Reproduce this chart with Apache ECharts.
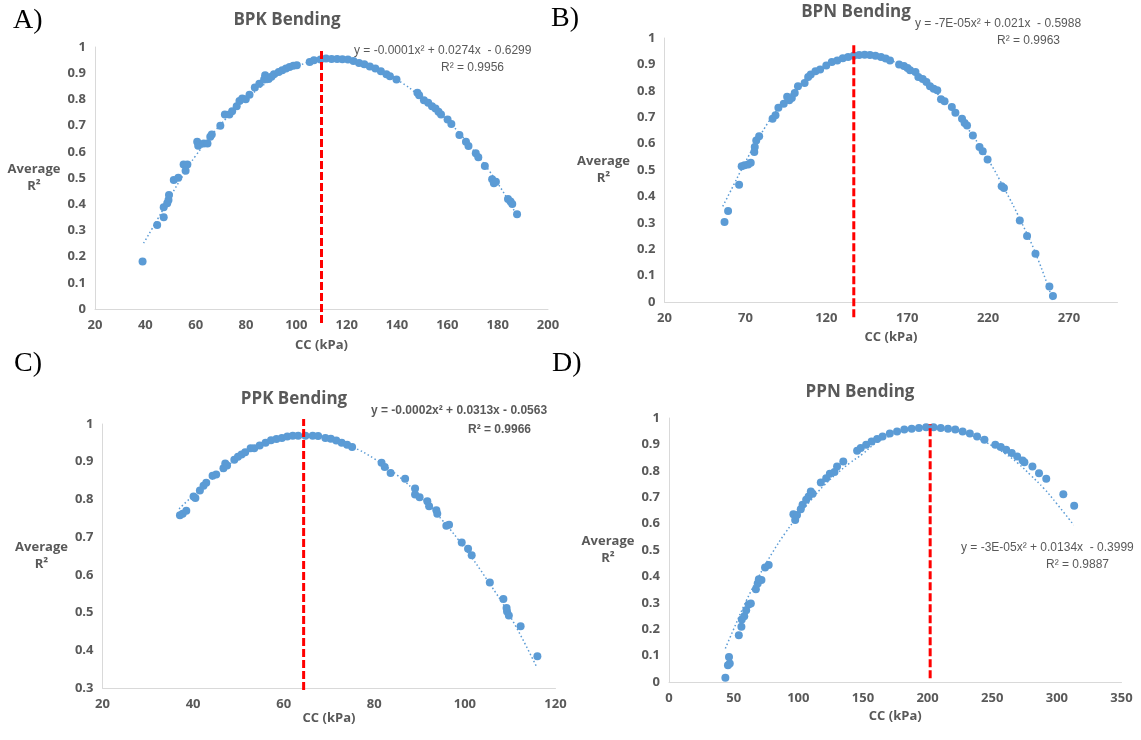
<!DOCTYPE html>
<html><head><meta charset="utf-8">
<script src="https://cdn.jsdelivr.net/npm/echarts@6/dist/echarts.min.js"></script>
<style>html,body{margin:0;padding:0;background:#fff}#c{width:1141px;height:740px}</style>
</head><body><div id="c"></div>
<script>
// ---------- DATA ----------
const panelLetters = ['A)', 'B)', 'C)', 'D)'];
const panelTitles = ['BPK Bending', 'BPN Bending', 'PPK Bending', 'PPN Bending'];
const equations = ['y = -0.0001x\u00b2 + 0.0274x  - 0.6299', 'y = -7E-05x\u00b2 + 0.021x  - 0.5988', 'y = -0.0002x\u00b2 + 0.0313x - 0.0563', 'y = -3E-05x\u00b2 + 0.0134x  - 0.3999'];
const rSquared = ['R\u00b2 = 0.9956', 'R\u00b2 = 0.9963', 'R\u00b2 = 0.9966', 'R\u00b2 = 0.9887'];
const optimumCC = [110, 137, 64.4, 202];
const optimumLineR2 = [[-0.053, 0.985], [-0.058, 0.976], [0.295, 1.013], [0.014, 0.976]];

const bpkCC = [38.9,44.7,47.3,47.3,48.7,49.2,49.4,51.3,53.1,55.2,56.7,56.0,60.6,61.0,63.2,64.7,65.8,66.4,69.8,71.6,73.4,74.5,76.3,77.4,78.5,79.9,81.4,83.5,85.3,87.2,87.6,89.0,90.1,91.1,93.0,94.4,95.9,97.3,98.8,100.2,105.3,107.0,109.6,111.8,114.0,116.2,118.3,120.5,122.7,124.9,127.0,129.2,131.4,133.6,135.8,137.2,139.8,148.1,148.8,150.7,152.4,153.9,155.3,156.5,157.5,160.1,161.6,164.8,167.4,168.4,171.3,172.3,174.9,177.8,178.5,179.3,184.1,185.1,185.8,187.7];
const bpkR2 = [0.181,0.321,0.350,0.388,0.404,0.416,0.435,0.492,0.501,0.552,0.552,0.528,0.638,0.623,0.632,0.632,0.657,0.666,0.699,0.742,0.742,0.755,0.774,0.794,0.803,0.801,0.818,0.845,0.860,0.876,0.892,0.878,0.886,0.896,0.905,0.911,0.918,0.924,0.928,0.930,0.943,0.949,0.952,0.956,0.954,0.954,0.953,0.952,0.947,0.939,0.934,0.926,0.918,0.907,0.896,0.888,0.876,0.825,0.816,0.797,0.787,0.774,0.765,0.753,0.742,0.723,0.706,0.664,0.638,0.622,0.594,0.579,0.546,0.495,0.480,0.486,0.420,0.410,0.401,0.362];
const bpkTrendCC = [39.3,45,50,55,60,70,80,90,100,110,120,130,140,150,160,170,180,188];
const bpkTrendR2 = [0.251,0.345,0.43,0.51,0.585,0.705,0.80,0.875,0.925,0.95,0.952,0.925,0.875,0.805,0.72,0.61,0.48,0.35];

const bpnCC = [57.1,59.3,66.1,67.7,69.5,71.7,73.3,75.5,75.8,76.7,78.5,86.8,88.6,90.4,93.7,95.8,97.1,98.7,100.5,102.5,106.6,108.8,110.4,113.3,116.2,120.0,123.4,126.8,130.2,133.5,136.9,140.3,143.7,147.0,150.4,153.8,156.7,159.4,165.0,168.0,170.2,171.8,175.1,176.9,179.6,181.9,184.1,186.4,188.6,190.9,193.1,197.6,199.8,203.9,205.5,207.0,210.6,214.7,216.7,219.7,228.4,229.8,239.6,244.1,249.3,257.9,260.1];
const bpnR2 = [0.303,0.345,0.444,0.514,0.518,0.521,0.527,0.568,0.587,0.612,0.628,0.694,0.707,0.736,0.751,0.777,0.764,0.773,0.792,0.817,0.830,0.852,0.862,0.874,0.881,0.896,0.909,0.915,0.923,0.928,0.933,0.936,0.937,0.936,0.933,0.928,0.922,0.915,0.900,0.894,0.886,0.878,0.871,0.852,0.845,0.833,0.817,0.808,0.802,0.768,0.760,0.739,0.717,0.694,0.678,0.669,0.631,0.587,0.571,0.540,0.438,0.432,0.309,0.250,0.183,0.059,0.023];
const bpnTrendCC = [56,60,70,80,90,100,110,120,130,140,150,160,170,180,190,200,210,220,230,240,250,260];
const bpnTrendR2 = [0.362,0.41,0.53,0.64,0.73,0.80,0.86,0.90,0.925,0.936,0.935,0.915,0.885,0.84,0.78,0.715,0.635,0.54,0.43,0.31,0.175,0.006];

const ppkCC = [37.1,37.7,38.5,40.1,40.5,41.5,42.3,42.9,44.3,45.1,46.7,47.1,47.5,49.1,49.9,50.7,51.5,52.7,53.5,54.7,56.0,57.2,58.4,59.6,60.8,62.0,63.2,64.8,66.4,67.6,69.2,70.4,71.6,72.8,74.0,75.1,81.6,82.3,83.6,86.8,89.0,89.0,90.0,91.7,92.1,93.7,93.9,95.9,96.5,99.3,100.7,101.5,105.5,108.5,109.2,109.3,109.7,112.3,116.0];
const ppkR2 = [0.758,0.762,0.770,0.808,0.804,0.824,0.836,0.844,0.863,0.866,0.883,0.895,0.890,0.905,0.913,0.919,0.925,0.936,0.936,0.943,0.950,0.957,0.960,0.963,0.967,0.969,0.969,0.969,0.969,0.968,0.963,0.961,0.956,0.950,0.945,0.939,0.897,0.886,0.870,0.855,0.829,0.813,0.806,0.795,0.782,0.771,0.762,0.730,0.733,0.686,0.669,0.652,0.580,0.536,0.512,0.503,0.492,0.464,0.384];
const ppkTrendCC = [36.9,40,45,50,55,60,65,70,75,80,85,90,95,100,105,110,115.7];
const ppkTrendR2 = [0.775,0.81,0.862,0.91,0.943,0.963,0.97,0.962,0.94,0.908,0.865,0.81,0.745,0.67,0.585,0.49,0.359];

const ppnCC = [43.6,45.6,47.0,46.4,54.0,56.0,56.3,58.2,59.7,61.6,63.3,67.2,68.6,69.5,71.5,74.3,77.1,96.2,97.6,99.0,101.9,103.3,106.1,108.0,109.7,111.1,117.4,121.6,124.4,128.0,130.0,134.8,145.5,148.3,152.5,156.7,161.0,165.2,170.8,176.4,182.0,187.7,193.3,198.9,204.6,210.2,215.8,221.4,227.1,232.7,238.3,244.0,252.4,256.6,260.8,265.1,269.3,273.5,274.9,281.1,286.2,291.8,305.0,313.4];
const ppnR2 = [0.016,0.063,0.070,0.095,0.177,0.209,0.237,0.249,0.272,0.294,0.297,0.351,0.373,0.389,0.386,0.434,0.443,0.635,0.614,0.633,0.654,0.671,0.690,0.703,0.722,0.713,0.756,0.772,0.789,0.795,0.816,0.835,0.876,0.886,0.899,0.911,0.920,0.930,0.941,0.949,0.956,0.959,0.962,0.965,0.965,0.962,0.959,0.956,0.949,0.941,0.930,0.918,0.899,0.890,0.880,0.867,0.854,0.839,0.832,0.816,0.791,0.770,0.711,0.668];
const ppnTrendCC = [43.6,50,60,70,80,90,100,110,120,130,140,150,160,170,180,190,200,210,220,230,240,250,260,270,280,290,300,313];
const ppnTrendR2 = [0.127,0.2,0.31,0.405,0.49,0.565,0.63,0.69,0.745,0.79,0.83,0.865,0.905,0.93,0.95,0.962,0.966,0.963,0.955,0.94,0.92,0.895,0.865,0.828,0.782,0.733,0.675,0.595];

const xRanges = [[20,200,20],[20,300,50],[20,120,20],[0,350,50]];
const yRanges = [[0,1,0.1],[0,1,0.1],[0.3,1,0.1],[0,1,0.1]];

// ---------- LAYOUT ----------
const grids = [
  {left:95, top:47, width:453, height:262},
  {left:664.5, top:38, width:453, height:264},
  {left:102.5, top:424, width:453, height:264},
  {left:669, top:418, width:452.5, height:264}
];
const xNameGaps = [30, 29, 20, 28];
const titlePos = [[282,7],[851,-1],[289,386],[855,379]];
const letterPos = [[13,7],[551,5],[14,350],[552,350]];
const eqPos = [[354,51,441,68],[915,24,997,41],[371,411,468,430],[961,548,1046,565]];

const blue = '#5B9BD5', grey = '#595959', axisGrey = '#D9D9D9';
const scat = [[bpkCC,bpkR2],[bpnCC,bpnR2],[ppkCC,ppkR2],[ppnCC,ppnR2]];
const trends = [[bpkTrendCC,bpkTrendR2],[bpnTrendCC,bpnTrendR2],[ppkTrendCC,ppkTrendR2],[ppnTrendCC,ppnTrendR2]];
const zip = (a,b) => a.map((v,i)=>[v,b[i]]);
const labFont = {color:grey, fontFamily:'Open Sans', fontWeight:'bold', fontSize:13};

const option = {
  animation:false,
  backgroundColor:'#fff',
  title: panelTitles.map((t,i)=>({text:t, left:titlePos[i][0], top:titlePos[i][1], textAlign:'center',
    textStyle:{color:grey, fontFamily:'Open Sans', fontWeight:'bold', fontSize:17}})),
  grid: grids,
  xAxis: grids.map((g,i)=>({type:'value', gridIndex:i, min:xRanges[i][0], max:xRanges[i][1], interval:xRanges[i][2],
    name:'CC (kPa)', nameLocation:'middle', nameGap:xNameGaps[i], nameTextStyle:labFont,
    axisLine:{onZero:false, lineStyle:{color:axisGrey, width:1}}, axisTick:{show:false}, splitLine:{show:false},
    axisLabel:Object.assign({margin:10, showMaxLabel: i===1 ? false : true}, labFont)})),
  yAxis: grids.map((g,i)=>({type:'value', gridIndex:i, min:yRanges[i][0], max:yRanges[i][1], interval:yRanges[i][2],
    name:'Average\nR\u00b2', nameLocation:'middle', nameRotate:0, nameGap:61,
    nameTextStyle:Object.assign({align:'center', verticalAlign:'middle', lineHeight:17}, labFont),
    axisLine:{show:true, lineStyle:{color:axisGrey, width:1}}, axisTick:{show:false}, splitLine:{show:false},
    axisLabel:Object.assign({margin:9}, labFont)})),
  series: [],
  graphic: []
};
for (let i=0;i<4;i++){
  option.series.push({type:'line', xAxisIndex:i, yAxisIndex:i, data:zip(trends[i][0],trends[i][1]), smooth:true,
    showSymbol:false, symbol:'none', lineStyle:{color:blue, width:1.5, type:[1.5,2.5]}, z:1});
  option.series.push({type:'scatter', xAxisIndex:i, yAxisIndex:i, data:zip(scat[i][0],scat[i][1]), symbolSize:8,
    itemStyle:{color:blue, opacity:1}, z:2});
  option.series.push({type:'line', xAxisIndex:i, yAxisIndex:i, clip:false, symbol:'none',
    data:[[optimumCC[i],optimumLineR2[i][0]],[optimumCC[i],optimumLineR2[i][1]]],
    lineStyle:{color:'#FF0000', width:3, type:[8,3]}, z:3});
  option.graphic.push({type:'text', left:letterPos[i][0], top:letterPos[i][1],
    style:{text:panelLetters[i], fill:'#000', font:'28px "Liberation Serif", "Times New Roman", serif'}});
  const bold = i===2 ? 'bold ' : '';
  option.graphic.push({type:'text', x:eqPos[i][0], y:eqPos[i][1],
    style:{text:equations[i], fill:grey, font:bold+'12px "Liberation Sans Narrow", "Liberation Sans", sans-serif', verticalAlign:'middle', align:'left'}});
  option.graphic.push({type:'text', x:eqPos[i][2], y:eqPos[i][3],
    style:{text:rSquared[i], fill:grey, font:bold+'12px "Liberation Sans Narrow", "Liberation Sans", sans-serif', verticalAlign:'middle', align:'left'}});
}
const chart = echarts.init(document.getElementById('c'), null, {renderer:'canvas'});
chart.setOption(option);
</script></body></html>
